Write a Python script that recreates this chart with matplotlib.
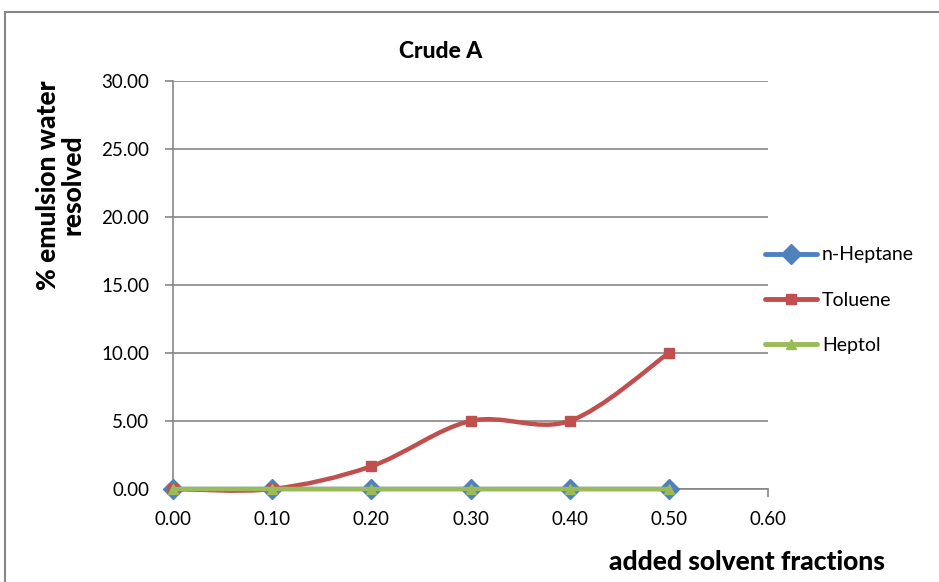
import matplotlib.pyplot as plt
from matplotlib.path import Path
from matplotlib.patches import PathPatch, Rectangle
from matplotlib.lines import Line2D

plt.rcParams['font.family'] = ['Lato', 'DejaVu Sans']

fractions = [0.0, 0.1, 0.2, 0.3, 0.4, 0.5]
heptane = [0, 0, 0, 0, 0, 0]
toluene = [0, 0, 1.67, 5, 5, 10]
heptol = [0, 0, 0, 0, 0, 0]

x_ticks = [0.0, 0.1, 0.2, 0.3, 0.4, 0.5, 0.6]
y_ticks = [0, 5, 10, 15, 20, 25, 30]


def smooth_path(xs, ys):
    # Excel-like smoothed line drawn as cubic Bezier segments through the points
    pts = list(zip(xs, ys))
    n = len(pts)
    verts = [pts[0]]
    codes = [Path.MOVETO]
    for i in range(n - 1):
        p0 = pts[i - 1] if i > 0 else pts[i]
        p1 = pts[i]
        p2 = pts[i + 1]
        p3 = pts[i + 2] if i + 2 < n else pts[i + 1]
        c1 = (p1[0] + (p2[0] - p0[0]) / 6, p1[1] + (p2[1] - p0[1]) / 6)
        c2 = (p2[0] - (p3[0] - p1[0]) / 6, p2[1] - (p3[1] - p1[1]) / 6)
        verts += [c1, c2, p2]
        codes += [Path.CURVE4] * 3
    return Path(verts, codes)


fig = plt.figure(figsize=(9.39, 5.82), dpi=100)
ax = fig.add_axes([173 / 939, 1 - 489 / 582, 595 / 939, 408 / 582])

series = [
    ('n-Heptane', heptane, '#4F81BD', 'D', 10),
    ('Toluene', toluene, '#C0504D', 's', 7),
    ('Heptol', heptol, '#9BBB59', '^', 7),
]

handles = []
for z, (name, vals, col, mk, ms) in enumerate(series):
    ax.add_patch(PathPatch(smooth_path(fractions, vals), facecolor='none',
                           edgecolor=col, lw=3.2, zorder=3 + z, clip_on=False,
                           capstyle='round'))
    ax.plot(fractions, vals, linestyle='none', marker=mk, ms=ms, color=col,
            zorder=3.5 + z, clip_on=False)
    handles.append(Line2D([], [], color=col, lw=3.5, marker=mk, ms=ms,
                          solid_capstyle='round'))

ax.set_xlim(0, 0.6)
ax.set_ylim(0, 30)
ax.set_xticks(x_ticks)
ax.set_yticks(y_ticks)
ax.set_xticklabels(['%.2f' % v for v in x_ticks])
ax.set_yticklabels(['%.2f' % v for v in y_ticks])
ax.tick_params(axis='both', labelsize=13.5, color='#868686', length=6,
               direction='out', width=1.2)
ax.tick_params(axis='x', pad=10)
ax.tick_params(axis='y', pad=11)
ax.grid(axis='y', color='#868686', lw=1.2)
ax.set_axisbelow(True)
for s in ['top', 'right']:
    ax.spines[s].set_visible(False)
for s in ['left', 'bottom']:
    ax.spines[s].set_color('#868686')
    ax.spines[s].set_linewidth(1.2)

fig.text(441 / 939, 1 - 52 / 582, 'Crude A', ha='center', va='center',
         fontsize=16.5, fontweight='black')
fig.text(60 / 939, 1 - 185 / 582, '% emulsion water\nresolved', rotation=90,
         ha='center', va='center', fontsize=19, fontweight='black',
         linespacing=1.0)
fig.text(747 / 939, 1 - 562 / 582, 'added solvent fractions', ha='center',
         va='center', fontsize=19, fontweight='black')

fig.legend(handles, [s[0] for s in series], loc='center left',
           bbox_to_anchor=(747 / 939, 1 - 300 / 582), frameon=False,
           fontsize=14, handlelength=2.7, labelspacing=1.45, handletextpad=0.25)

fig.patches.append(Rectangle((5 / 939, -0.1), 1.1, 1.1 - 12 / 582,
                             transform=fig.transFigure, fill=False,
                             edgecolor='#868686', lw=1.5))

fig.savefig('out.png', dpi=100)
